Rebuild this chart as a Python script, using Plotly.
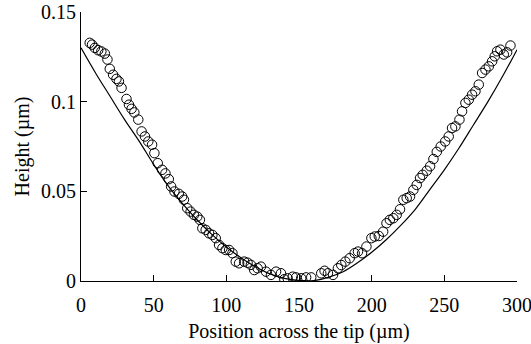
import plotly.graph_objects as go

# Measured data points (open circles)
pos_um = [6.0, 7.6, 9.5, 11.8, 14.0, 16.4, 18.2, 19.8, 22.1, 24.4, 26.1, 27.9, 31.3, 33.0, 34.8,
          36.7, 39.4, 41.7, 44.0, 46.3, 48.9, 50.5, 52.8, 55.8, 58.1, 60.4, 62.0, 64.3, 67.3, 69.6,
          70.8, 73.1, 75.4, 77.7, 80.0, 81.8, 83.5, 85.8, 88.1, 90.4, 92.7, 95.0, 97.3, 99.6, 101.9,
          104.2, 106.5, 108.8, 112.3, 114.6, 116.9, 119.2, 121.5, 123.8, 127.3, 130.7, 134.2, 137.6,
          139.9, 142.2, 145.7, 148.0, 151.5, 154.9, 158.4, 165.3, 167.6, 169.9, 173.4, 176.8, 179.1,
          181.9, 184.9, 188.3, 190.6, 193.4, 196.4, 199.8, 202.1, 204.9, 207.9, 210.2, 212.5, 214.9,
          217.2, 219.5, 221.8, 224.1, 226.4, 228.7, 231.0, 233.3, 235.1, 237.9, 240.2, 242.5, 244.8,
          247.5, 250.6, 253.0, 255.3, 257.6, 260.4, 262.2, 264.5, 266.8, 269.1, 271.4, 273.7, 276.0,
          278.3, 280.6, 282.9, 284.7, 286.3, 288.6, 290.9, 293.2, 295.5]
height_um = [0.1328, 0.1318, 0.1300, 0.1287, 0.1280, 0.1268, 0.1235, 0.1183, 0.1150, 0.1127, 0.1113,
             0.1077, 0.1015, 0.0983, 0.0960, 0.0940, 0.0900, 0.0834, 0.0806, 0.0778, 0.0760, 0.0713,
             0.0657, 0.0620, 0.0600, 0.0568, 0.0527, 0.0499, 0.0486, 0.0471, 0.0453, 0.0406, 0.0387,
             0.0369, 0.0359, 0.0341, 0.0294, 0.0285, 0.0266, 0.0257, 0.0239, 0.0201, 0.0183, 0.0173,
             0.0173, 0.0155, 0.0108, 0.0099, 0.0108, 0.0102, 0.0090, 0.0061, 0.0071, 0.0080, 0.0052,
             0.0034, 0.0052, 0.0043, 0.0010, 0.0015, 0.0024, 0.0020, 0.0015, 0.0020, 0.0020, 0.0043,
             0.0057, 0.0043, 0.0034, 0.0071, 0.0089, 0.0108, 0.0127, 0.0155, 0.0164, 0.0155, 0.0192,
             0.0239, 0.0248, 0.0251, 0.0275, 0.0322, 0.0341, 0.0350, 0.0369, 0.0400, 0.0453, 0.0462,
             0.0471, 0.0508, 0.0536, 0.0574, 0.0592, 0.0615, 0.0640, 0.0680, 0.0720, 0.0750, 0.0778,
             0.0806, 0.0853, 0.0862, 0.0900, 0.0946, 0.0993, 0.1011, 0.1039, 0.1058, 0.1095, 0.1160,
             0.1179, 0.1197, 0.1225, 0.1253, 0.1281, 0.1290, 0.1263, 0.1275, 0.1313]

# Model curve (solid line)
model_pos = [0, 10, 20, 30, 40, 50, 60, 70, 80, 90, 100, 110, 120, 130, 140, 150, 160, 170, 180,
             190, 200, 210, 220, 230, 240, 250, 260, 270, 280, 290, 300]
model_height = [0.130, 0.116, 0.103, 0.090, 0.078, 0.065, 0.053, 0.043, 0.034, 0.026, 0.019, 0.013,
                0.008, 0.004, 0.0015, 0.0003, 0.0002, 0.002, 0.005, 0.010, 0.016, 0.023, 0.031,
                0.040, 0.051, 0.062, 0.074, 0.087, 0.100, 0.114, 0.129]

x_ticks = [0, 50, 100, 150, 200, 250, 300]
y_ticks = [0, 0.05, 0.1, 0.15]
y_tick_text = ["0", "0.05", "0.1", "0.15"]

FONT = "Liberation Serif, Times New Roman, serif"
FS = 20

fig = go.Figure()
fig.add_trace(go.Scatter(
    x=model_pos, y=model_height, mode="lines", line_shape="spline",
    line=dict(color="black", width=1.2), showlegend=False, hoverinfo="skip"))
fig.add_trace(go.Scatter(
    x=pos_um, y=height_um, mode="markers",
    marker=dict(symbol="circle-open", size=9.5, color="black", line=dict(width=1)),
    showlegend=False))

axis_common = dict(showline=True, linecolor="black", linewidth=1, ticks="inside", ticklen=6,
                   tickcolor="black", tickwidth=1, showgrid=False, zeroline=False,
                   ticklabeloverflow="allow", automargin=False,
                   tickfont=dict(family=FONT, size=FS, color="black"))

fig.update_xaxes(range=[0, 300], tickvals=x_ticks, ticklabelstandoff=6,
                 title=dict(text="Position across the tip (µm)", standoff=8,
                            font=dict(family=FONT, size=FS, color="black")),
                 **axis_common)
fig.update_yaxes(range=[0, 0.15], tickvals=y_ticks, ticktext=y_tick_text,
                 title=dict(text="Height (µm)", standoff=6,
                            font=dict(family=FONT, size=FS, color="black")),
                 **axis_common)

fig.update_layout(width=531, height=344, margin=dict(l=81, r=14, t=12, b=63),
                  plot_bgcolor="white", paper_bgcolor="white",
                  font=dict(family=FONT, size=FS, color="black"))

fig.write_html("out.html")
